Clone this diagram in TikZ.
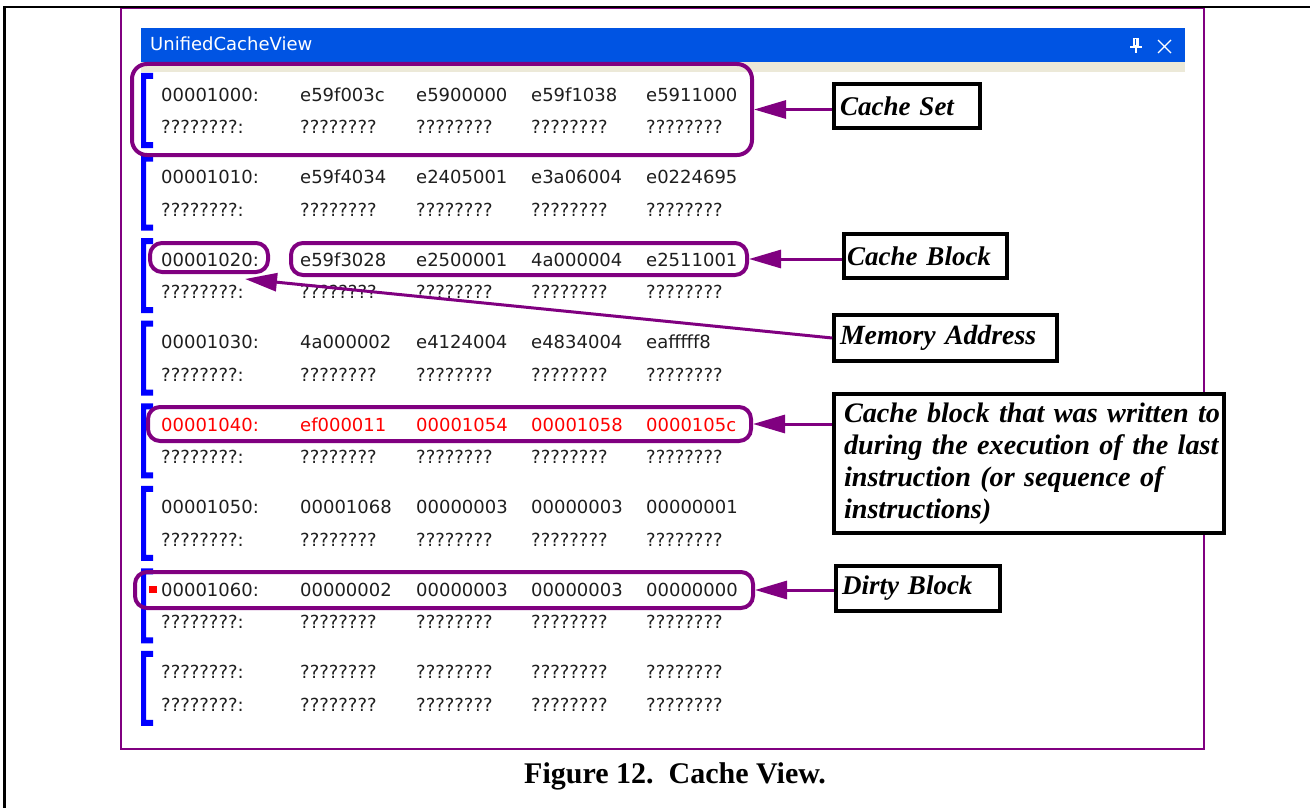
\documentclass[tikz,border=0pt]{standalone}
\usepackage{fontspec}
\usetikzlibrary{arrows.meta}
\newfontfamily\uifont{DejaVu Sans}
\newfontfamily\serifface{Liberation Serif}
\definecolor{xpblue}{RGB}{0,84,227}
\definecolor{xpbeige}{RGB}{236,233,216}
\definecolor{hilite}{RGB}{128,0,128}
\definecolor{setblue}{RGB}{0,0,255}
\definecolor{cellink}{RGB}{30,30,30}
\tikzset{
  cell/.style={anchor=base west, inner sep=0pt, text=cellink,
    font=\uifont\fontsize{18}{20}\selectfont},
  ring/.style={draw=hilite, line width=4pt, rounded corners=12pt,
    inner sep=0pt, outer sep=2pt},
  callout/.style={draw=black, line width=3.5pt, fill=white, inner ysep=0pt,
    align=left, font={\serifface\bfseries\itshape\fontsize{27}{32}\selectfont}},
  pointer/.style={draw=hilite, line width=3pt,
    -{Triangle[length=32pt,width=18pt]}},
}
\begin{document}
\begin{tikzpicture}[x=1pt,y=-1pt]
\useasboundingbox (0,0) rectangle (1310,808);

% window frame and page frame
\draw[hilite, line width=1.5pt] (121,8) rectangle (1204,749);
\draw[hilite, line width=2.2pt] (121,749) -- (1204,749);
\draw[black, line width=2.5pt] (4.7,812) -- (4.7,7) -- (1312,7);

% title bar
\fill[xpblue] (141,28) rectangle (1185,62);
\fill[xpbeige] (141,62) rectangle (1185,72);
\node[anchor=base west, inner sep=0pt, text=white,
  font=\uifont\fontsize{18}{20}\selectfont] (title) at (150,50.5) {UnifiedCacheView};
% pin button
\fill[white] (1133,38) rectangle (1139,46);
\fill[xpblue] (1134.5,39.5) rectangle (1136.3,45);
\fill[white] (1130,46) rectangle (1142,48);
\fill[white] (1135,48) rectangle (1137,53);
% close button
\draw[white, line width=1.3pt] (1158,40) -- (1171,53) (1158,53) -- (1171,40);

% set brackets
\foreach \i in {1,...,8}{
  \pgfmathsetmacro\cy{110+82.57*(\i-1)}
  \fill[setblue] (141,\cy-37) -- (153,\cy-37) -- (153,\cy-31) -- (146,\cy-31)
    -- (146,\cy+32) -- (153,\cy+32) -- (153,\cy+38) -- (141,\cy+38) -- cycle;
}

% cache contents
\foreach \i/\addr/\wordA/\wordB/\wordC/\wordD/\ink in {
  1/00001000:/e59f003c/e5900000/e59f1038/e5911000/cellink,
  2/00001010:/e59f4034/e2405001/e3a06004/e0224695/cellink,
  3/00001020:/e59f3028/e2500001/4a000004/e2511001/cellink,
  4/00001030:/4a000002/e4124004/e4834004/eafffff8/cellink,
  5/00001040:/ef000011/00001054/00001058/0000105c/red,
  6/00001050:/00001068/00000003/00000003/00000001/cellink,
  7/00001060:/00000002/00000003/00000003/00000000/cellink,
  8/????????:/????????/????????/????????/????????/cellink}{
  \pgfmathsetmacro\ya{101+82.57*(\i-1)}
  \pgfmathsetmacro\yb{\ya+32.5}
  \node[cell, text=\ink] (r\i a0) at (161,\ya) {\addr};
  \node[cell, text=\ink] (r\i a1) at (300,\ya) {\wordA};
  \node[cell, text=\ink] (r\i a2) at (416,\ya) {\wordB};
  \node[cell, text=\ink] (r\i a3) at (531,\ya) {\wordC};
  \node[cell, text=\ink] (r\i a4) at (646,\ya) {\wordD};
  \node[cell] (r\i b0) at (161,\yb) {????????:};
  \node[cell] (r\i b1) at (300,\yb) {????????};
  \node[cell] (r\i b2) at (416,\yb) {????????};
  \node[cell] (r\i b3) at (531,\yb) {????????};
  \node[cell] (r\i b4) at (646,\yb) {????????};
}

% dirty flag
\fill[red] (148.5,585.5) rectangle (156.5,593);

% highlight rings
\node[ring, rounded corners=15pt, minimum width=620pt, minimum height=91pt] (setring) at (442,109.5) {};
\node[ring, minimum width=118pt, minimum height=29pt] (addrring) at (209,257.5) {};
\node[ring, minimum width=456pt, minimum height=32pt] (blockring) at (519,259) {};
\node[ring, minimum width=603pt, minimum height=34pt] (lastring) at (449.5,424) {};
\node[ring, minimum width=618pt, minimum height=36pt] (dirtyring) at (444,590) {};

% callouts
\node[callout, inner xsep=6pt, text width=134pt, minimum height=44pt] (lblset) at (907,106) {Cache Set};
\node[callout, inner xsep=3pt, text width=157pt, minimum height=44pt] (lblblock) at (925.5,256) {Cache Block};
\node[callout, inner xsep=6pt, text width=211pt, minimum height=46pt,
  font={\serifface\bfseries\itshape\fontsize{27.8}{32}\selectfont}] (lblmem) at (945.5,338) {Memory Address};
\node[callout, inner xsep=10pt, text width=370pt, minimum height=139pt,
  font={\serifface\bfseries\itshape\fontsize{28.2}{32}\selectfont}] (lbllast) at (1029,463.5)
  {\mbox{Cache block that was written to}\\\mbox{during the execution of the last}\\
   \mbox{instruction (or sequence of}\\\mbox{instructions)}};
\node[callout, inner xsep=6pt, text width=152pt, minimum height=45pt] (lbldirty) at (918,588.5) {Dirty Block};

% pointers
\coordinate (memtip) at (245,279);
\draw[pointer] (lblset.west |- setring.east) -- (setring.east);
\draw[pointer] (lblblock.west |- blockring.east) -- (blockring.east);
\draw[pointer] (lblmem.west) -- (memtip);
\draw[pointer] (lbllast.west |- lastring.east) -- (lastring.east);
\draw[pointer] (lbldirty.west |- dirtyring.east) -- (dirtyring.east);

% caption
\node[inner sep=0pt, font={\serifface\bfseries\fontsize{30}{32}\selectfont}] (figcap) at (675,776)
  {Figure 12.\enspace Cache View.};
\end{tikzpicture}
\end{document}
